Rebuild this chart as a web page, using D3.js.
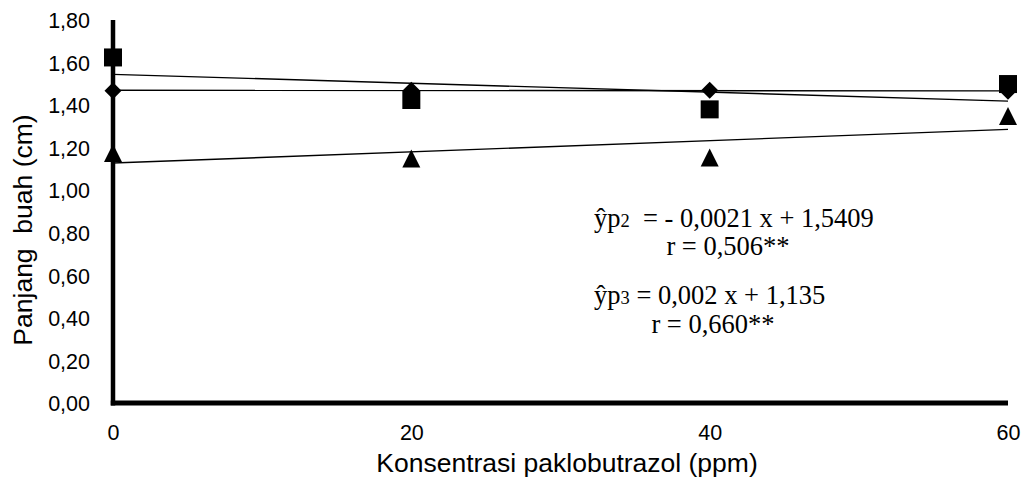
<!DOCTYPE html>
<html>
<head>
<meta charset="utf-8">
<script src="https://cdn.jsdelivr.net/npm/d3@7"></script>
<style>
  html, body { margin: 0; padding: 0; background: #fff; }
  svg { display: block; }
  .eq { font-family: "Liberation Serif", "Times New Roman", serif; font-size: 26.5px; white-space: pre; }
  .tick-lab { font-family: "Liberation Sans", Arial, sans-serif; font-size: 21.5px; }
  .title { font-family: "Liberation Sans", Arial, sans-serif; font-size: 26.5px; white-space: pre; }
</style>
</head>
<body>
<svg id="chart" width="1030" height="479"></svg>
<script>
// ---- data ----
const xValues = [0, 20, 40, 60];
const p1Values = [1.468, 1.470, 1.470, 1.465];   // diamonds
const p2Values = [1.624, 1.424, 1.380, 1.499];   // squares
const p3Values = [1.175, 1.149, 1.154, 1.349];   // triangles
const yTicks = [0, 0.2, 0.4, 0.6, 0.8, 1.0, 1.2, 1.4, 1.6, 1.8];
const xTicks = [0, 20, 40, 60];
const xTitle = "Konsentrasi paklobutrazol (ppm)";
const yTitle = "Panjang  buah (cm)";
const eqP2 = ["ŷp", "2", "  = - 0,0021 x + 1,5409"];
const rP2 = "r = 0,506**";
const eqP3 = ["ŷp", "3", " = 0,002 x + 1,135"];
const rP3 = "r = 0,660**";

// ---- layout ----
const svg = d3.select("#chart");
const x = d3.scaleLinear().domain([0, 60]).range([113, 1008]);
const y = d3.scaleLinear().domain([0, 1.8]).range([403, 20]);

function linreg(xs, ys) {
  const n = xs.length;
  const mx = d3.mean(xs), my = d3.mean(ys);
  let sxy = 0, sxx = 0;
  for (let i = 0; i < n; i++) { sxy += (xs[i]-mx)*(ys[i]-my); sxx += (xs[i]-mx)**2; }
  const b = sxy / sxx;
  return { b, a: my - b * mx };
}

// y tick labels
const fmt = v => d3.format(".2f")(v).replace(".", ",");
const yAxis = d3.axisLeft(y).tickValues(yTicks).tickSize(0).tickPadding(0).tickFormat(fmt);
const gy = svg.append("g").attr("transform", "translate(90,0)").call(yAxis);
gy.select(".domain").remove();
gy.selectAll("text").attr("class", "tick-lab").attr("font-family", null).attr("font-size", null)
  .attr("fill", "#000").attr("dy", "0.36em");

const xAxis = d3.axisBottom(x).tickValues(xTicks).tickSize(0).tickPadding(0).tickFormat(d3.format("d"));
const gx = svg.append("g").attr("transform", "translate(0,424)").call(xAxis);
gx.select(".domain").remove();
gx.selectAll("text").attr("class", "tick-lab").attr("font-family", null).attr("font-size", null)
  .attr("fill", "#000").attr("dy", "0.36em").attr("y", 8);

// axis lines
svg.append("line").attr("x1", x(0)).attr("x2", x(0)).attr("y1", y(1.8)).attr("y2", y(0) + 2.5)
  .attr("stroke", "#000").attr("stroke-width", 4.5);
svg.append("line").attr("x1", x(0) - 2.25).attr("x2", x(60)).attr("y1", y(0)).attr("y2", y(0))
  .attr("stroke", "#000").attr("stroke-width", 5);

// trend lines
[p1Values, p2Values, p3Values].forEach(vals => {
  const r = linreg(xValues, vals);
  svg.append("line")
    .attr("x1", x(0)).attr("y1", y(r.a))
    .attr("x2", x(60)).attr("y2", y(r.a + r.b * 60))
    .attr("stroke", "#000").attr("stroke-width", 1.4);
});

// markers
const tri = "M0,-9L9,9L-9,9Z";
const sq = "M-9,-9L9,-9L9,9L-9,9Z";
const dia = "M0,-8.5L8.5,0L0,8.5L-8.5,0Z";
function drawMarkers(vals, path) {
  svg.append("g").selectAll("path").data(vals).join("path")
    .attr("d", path)
    .attr("transform", (d, i) => `translate(${x(xValues[i])},${y(d)})`)
    .attr("fill", "#000");
}
drawMarkers(p3Values, tri);
drawMarkers(p2Values, sq);
drawMarkers(p1Values, dia);

// equations
function eq(parts, xx, yy) {
  const t = svg.append("text").attr("class", "eq").attr("x", xx).attr("y", yy);
  t.append("tspan").text(parts[0]);
  t.append("tspan").attr("font-size", "18.5px").text(parts[1]);
  t.append("tspan").text(parts[2]);
}
eq(eqP2, 594, 227);
svg.append("text").attr("class", "eq").attr("x", 728).attr("y", 255).attr("text-anchor", "middle").text(rP2);
eq(eqP3, 594, 304);
svg.append("text").attr("class", "eq").attr("x", 713).attr("y", 333).attr("text-anchor", "middle").text(rP3);

// axis titles
svg.append("text").attr("class", "title").attr("text-anchor", "middle")
  .attr("transform", "translate(32,230) rotate(-90)").text(yTitle);
svg.append("text").attr("class", "title").attr("text-anchor", "middle")
  .attr("x", 567).attr("y", 472).text(xTitle);
</script>
</body>
</html>
